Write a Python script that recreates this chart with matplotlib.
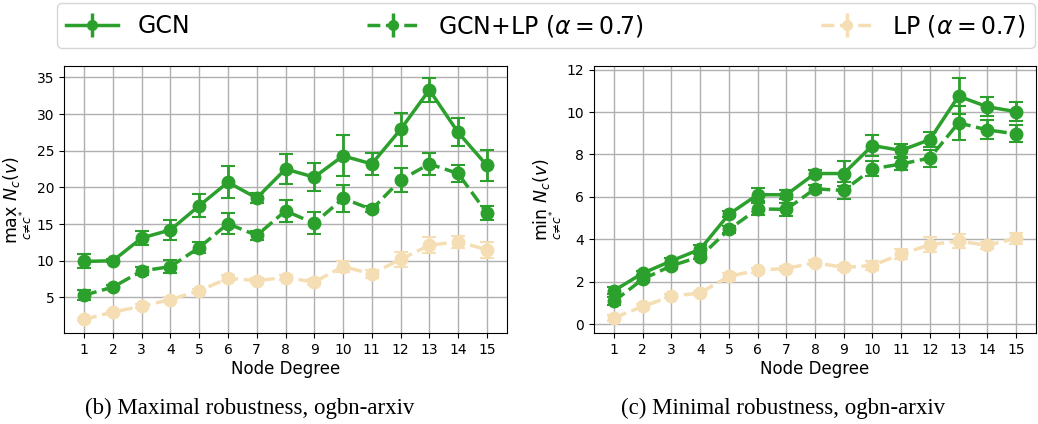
import numpy as np
import matplotlib.pyplot as plt

# ==========================================
# DATA
# ==========================================
degrees = list(range(1, 16))

# (b) maximal robustness
max_gcn = [9.9, 10.0, 13.1, 14.2, 17.5, 20.7, 18.55, 22.5, 21.4, 24.3, 23.2, 27.9, 33.3, 27.5, 23.0]
max_gcn_err = [0.95, 0.2, 1.0, 1.4, 1.6, 2.2, 0.7, 2.0, 1.9, 2.8, 1.5, 2.3, 1.6, 1.9, 2.1]
max_gcnlp = [5.3, 6.4, 8.6, 9.2, 11.8, 15.05, 13.45, 16.8, 15.1, 18.5, 17.0, 21.0, 23.2, 21.9, 16.5]
max_gcnlp_err = [0.7, 0.3, 0.6, 0.85, 0.75, 1.4, 0.65, 1.5, 1.5, 1.8, 0.4, 1.6, 1.45, 1.2, 1.0]
max_lp = [2.0, 3.0, 3.8, 4.7, 5.9, 7.6, 7.3, 7.7, 7.1, 9.2, 8.2, 10.2, 12.1, 12.6, 11.5]
max_lp_err = [0.2, 0.2, 0.3, 0.3, 0.3, 0.4, 0.4, 0.3, 0.4, 0.7, 0.5, 1.0, 1.1, 0.8, 1.1]

# (c) minimal robustness
min_gcn = [1.58, 2.4, 2.98, 3.53, 5.18, 6.1, 6.1, 7.1, 7.1, 8.42, 8.19, 8.7, 10.75, 10.25, 10.02]
min_gcn_err = [0.18, 0.1, 0.15, 0.2, 0.15, 0.3, 0.2, 0.15, 0.6, 0.5, 0.3, 0.35, 0.85, 0.45, 0.45]
min_gcnlp = [1.08, 2.12, 2.75, 3.18, 4.46, 5.43, 5.41, 6.38, 6.3, 7.32, 7.55, 7.83, 9.49, 9.16, 8.97]
min_gcnlp_err = [0.2, 0.15, 0.15, 0.12, 0.15, 0.3, 0.3, 0.2, 0.4, 0.35, 0.3, 0.4, 0.8, 0.45, 0.4]
min_lp = [0.3, 0.83, 1.31, 1.47, 2.25, 2.54, 2.62, 2.9, 2.67, 2.76, 3.3, 3.74, 3.92, 3.71, 4.04]
min_lp_err = [0.15, 0.1, 0.1, 0.1, 0.15, 0.12, 0.12, 0.12, 0.12, 0.2, 0.25, 0.35, 0.35, 0.15, 0.25]

labels = ["GCN", r"GCN+LP ($\alpha = 0.7$)", r"LP ($\alpha = 0.7$)"]
colors = ["#2ca02c", "#2ca02c", "wheat"]
styles = ["-", "--", "--"]

W, H = 1038, 424
fig = plt.figure(figsize=(W / 100, H / 100), dpi=100)

ax_max = fig.add_axes([64 / W, 1 - 333 / H, 443 / W, 267 / H])
ax_min = fig.add_axes([594 / W, 1 - 333 / H, 442 / W, 267 / H])

panels = [
    (ax_max, [(max_gcn, max_gcn_err), (max_gcnlp, max_gcnlp_err), (max_lp, max_lp_err)],
     r"$\max_{c \neq c^*}\ N_c(v)$"),
    (ax_min, [(min_gcn, min_gcn_err), (min_gcnlp, min_gcnlp_err), (min_lp, min_lp_err)],
     r"$\min_{c \neq c^*}\ N_c(v)$"),
]

for ax, series, ylab in panels:
    ax.set_axisbelow(True)
    ax.grid(True, color="#b0b0b0", linewidth=1)
    # LP first so that the green lines are drawn on top
    for i in [2, 1, 0]:
        vals, errs = series[i]
        ax.errorbar(degrees, vals, yerr=errs, color=colors[i], linestyle=styles[i],
                    linewidth=2.5, marker="o", markersize=9, capsize=5,
                    elinewidth=2, capthick=1.5, zorder=3 - i * 0.1)
    ax.set_xticks(degrees)
    ax.set_xlim(0.3, 15.7)
    ax.tick_params(labelsize=10)
    ax.set_xlabel("Node Degree", fontsize=12, labelpad=2)
    ax.set_ylabel(ylab, fontsize=12.5)
    ax.yaxis.set_label_coords(-0.068, 0.5)

# legend over both panels
handles = []
for i in range(3):
    handles.append(ax_max.errorbar([], [], yerr=[], color=colors[i], linestyle=styles[i],
                                   linewidth=2.5, marker="o", markersize=7, capsize=5))
fig.legend(handles, labels, loc="lower left", ncol=3, mode="expand",
           bbox_to_anchor=(57 / W, 1 - 48 / H, 978 / W, 45 / H), fontsize=17,
           frameon=True, handlelength=2.2, borderaxespad=0)

# captions
fig.text(250 / W, 1 - 408 / H, "(b) Maximal robustness, ogbn-arxiv",
         family="Liberation Serif", fontsize=16.5, ha="center", va="center")
fig.text(783 / W, 1 - 408 / H, "(c) Minimal robustness, ogbn-arxiv",
         family="Liberation Serif", fontsize=16.5, ha="center", va="center")

fig.savefig("out.png", dpi=100)
